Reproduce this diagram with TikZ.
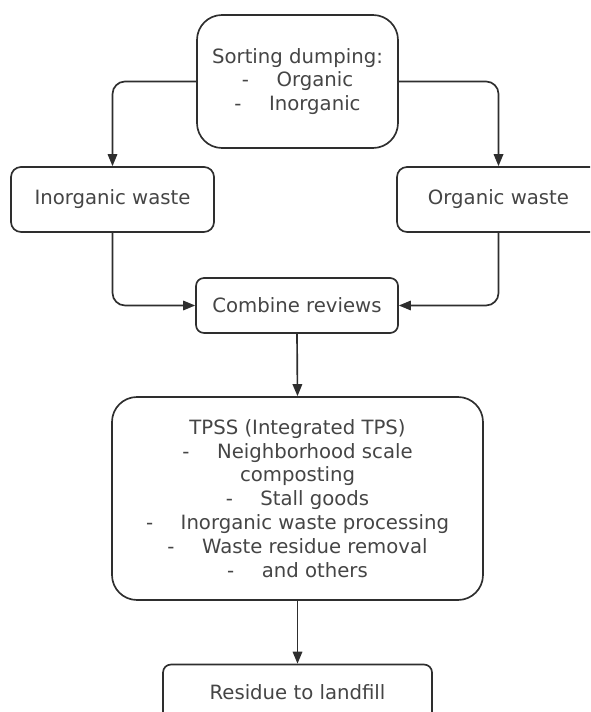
\documentclass[tikz,border=0pt]{standalone}
\usepackage{fontspec}
\setmainfont{DejaVu Sans}
\usetikzlibrary{arrows.meta}
\definecolor{linegray}{HTML}{2E2E2E}
\definecolor{textgray}{HTML}{454545}
\tikzset{
  box/.style={draw=linegray, line width=0.95pt, align=center, inner sep=0pt, text=textgray,
    font=\fontsize{11.2}{13.6}\selectfont},
  flow/.style={draw=linegray, line width=0.95pt, rounded corners=0.25cm,
    -{Triangle[length=0.24cm,width=0.19cm]}}
}
\newcommand{\dsh}{-\hspace{1.4em}}

\begin{document}
\begin{tikzpicture}
\useasboundingbox (0,0) rectangle (11.8,-14.24);
\fill[white] (0,0) rectangle (11.8,-14.24);
\clip (0,0) rectangle (11.8,-14.24);
\node[box, rounded corners=0.5cm, minimum width=4.02cm, minimum height=2.66cm] (sort) at (5.95,-1.63)
  {Sorting dumping:\\ \dsh Organic\\ \dsh Inorganic};
\node[box, rounded corners=0.2cm, minimum width=4.06cm, minimum height=1.3cm] (inorg) at (2.25,-3.99) {Inorganic waste};
\node[box, rounded corners=0.2cm, minimum width=4.06cm, minimum height=1.3cm] (org) at (9.97,-3.99) {Organic waste};
\node[box, rounded corners=0.16cm, minimum width=4.04cm, minimum height=1.1cm] (comb) at (5.94,-6.11) {Combine reviews};
\node[box, rounded corners=0.5cm, minimum width=7.42cm, minimum height=4.06cm] (tpss) at (5.95,-9.97)
  {TPSS (Integrated TPS)\\ \dsh Neighborhood scale\\ composting\\ \dsh Stall goods\\
   \dsh Inorganic waste processing\\ \dsh Waste residue removal\\ \dsh and others};
\node[box, rounded corners=0.16cm, minimum width=5.38cm, minimum height=1.1cm] (resid) at (5.95,-13.84) {Residue to landfill};
\draw[flow] (sort.west) -| (inorg.north);
\draw[flow] (sort.east) -| (org.north);
\draw[flow] (inorg.south) |- (comb.west);
\draw[flow] (org.south) |- (comb.east);
\draw[flow] (comb.south) -- (tpss.north);
\draw[flow] (tpss.south) -- (resid.north);
\end{tikzpicture}
\end{document}
